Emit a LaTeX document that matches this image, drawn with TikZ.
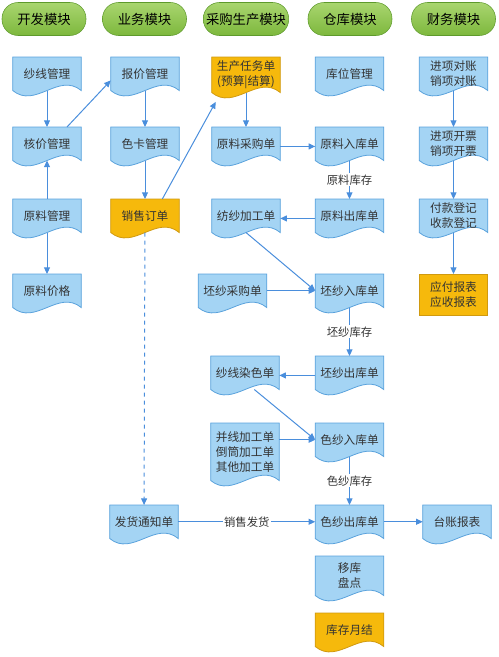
\documentclass[tikz,border=0pt]{standalone}
\usepackage{fontspec}
\setmainfont{Noto Sans CJK SC}
\usetikzlibrary{arrows.meta}
\definecolor{docfill}{HTML}{A4D4F4}
\definecolor{docline}{HTML}{5AA2DC}
\definecolor{ordfill}{HTML}{F6B90C}
\definecolor{ordline}{HTML}{D09A10}
\definecolor{modtop}{HTML}{A9D56F}
\definecolor{modbot}{HTML}{7DB83D}
\definecolor{modline}{HTML}{5E9A2C}
\definecolor{flowc}{HTML}{4A8EDC}
\definecolor{txt}{HTML}{333333}
\pgfdeclarelayer{background}
\pgfsetlayers{background,main}
% document outline with a wavy bottom, drawn round a named node
\newcommand\docshape[3]{%
  \filldraw[fill=#2, draw=#3, line width=0.6pt]
    (#1.north west) -- (#1.north east) -- (#1.south east)
    .. controls ([xshift=-17pt,yshift=14pt]#1.south east) and ([xshift=17pt,yshift=-14pt]#1.south west) .. (#1.south west)
    -- cycle;}

\begin{document}
\begin{tikzpicture}[
  x=0.75pt, y=-0.75pt,
  font={\fontsize{8.75}{11.25}\selectfont},
  module/.style={draw=modline, top color=modtop, bottom color=modbot, rounded corners=12pt,
    minimum width=63pt, minimum height=24.75pt, inner xsep=2pt, font={\fontsize{10}{12}\selectfont}},
  doc/.style={anchor=north, minimum width=51pt, minimum height=24.75pt, align=center,
    inner sep=1pt, text=txt},
  flow/.style={flowc, line width=0.75pt, -{Triangle[length=5pt,width=4.5pt]}},
  lbl/.style={font={\fontsize{8.5}{10}\selectfont}, fill=white, inner sep=1pt, text=txt},
]
\useasboundingbox (0,0) rectangle (499,657);

% ---------- module headers ----------
\node[module] (hdev)   at (44,19)    {开发模块};
\node[module] (hbiz)   at (144.5,19) {业务模块};
\node[module] (hprod)  at (246,19)   {采购生产模块};
\node[module] (hstore) at (350,19)   {仓库模块};
\node[module] (hfin)   at (453.5,19) {财务模块};

% ---------- development ----------
\node[doc] (sxgl) at (47,57)  {纱线管理};
\node[doc] (hjgl) at (47,127) {核价管理};
\node[doc] (ylgl) at (47,199) {原料管理};
\node[doc] (yljg) at (47,274) {原料价格};

% ---------- business ----------
\node[doc] (bjgl) at (145,57)  {报价管理};
\node[doc] (skgl) at (145,127) {色卡管理};
\node[doc] (xsdd) at (145,199) {销售订单};
\node[doc] (fhtz) at (144,505) {发货通知单};

% ---------- purchase / production ----------
\node[doc, minimum height=26.25pt] (scrw) at (246,57) {生产任务单\\(预算|结算)};
\node[doc] (ylcg) at (246,127)   {原料采购单};
\node[doc] (fsjg) at (246,199)   {纺纱加工单};
\node[doc] (pscg) at (232.5,274) {坯纱采购单};
\node[doc] (sxrs) at (245,356)   {纱线染色单};
\node[doc, minimum height=42.75pt] (bxjg) at (245,423) {并线加工单\\倒筒加工单\\其他加工单};

% ---------- warehouse ----------
\node[doc] (kwgl) at (349.5,57)  {库位管理};
\node[doc] (ylrk) at (349.5,127) {原料入库单};
\node[doc] (ylck) at (349.5,199) {原料出库单};
\node[doc] (psrk) at (349.5,274) {坯纱入库单};
\node[doc] (psck) at (349.5,356) {坯纱出库单};
\node[doc] (ssrk) at (349.5,423) {色纱入库单};
\node[doc] (ssck) at (349.5,505) {色纱出库单};
\node[doc, minimum height=29.25pt] (ykpd) at (349.5,556) {移库\\盘点};
\node[doc] (kcyj) at (349.5,613) {库存月结};

% ---------- finance ----------
\node[doc] (jxdz) at (453.5,57)  {进项对账\\销项对账};
\node[doc] (jxkp) at (453.5,127) {进项开票\\销项开票};
\node[doc] (fkdj) at (453.5,199) {付款登记\\收款登记};
\node[doc, minimum height=30.75pt, draw=ordline, fill=ordfill, line width=0.6pt] (yfbb) at (453.5,274) {应付报表\\应收报表};
\node[doc] (tzbb) at (457,505) {台账报表};

% outlines behind the text
\begin{pgfonlayer}{background}
\foreach \n/\f/\l in {sxgl/docfill/docline, hjgl/docfill/docline, ylgl/docfill/docline,
  yljg/docfill/docline, bjgl/docfill/docline, skgl/docfill/docline, xsdd/ordfill/ordline,
  fhtz/docfill/docline, scrw/ordfill/ordline, ylcg/docfill/docline, fsjg/docfill/docline,
  pscg/docfill/docline, sxrs/docfill/docline, bxjg/docfill/docline, kwgl/docfill/docline,
  ylrk/docfill/docline, ylck/docfill/docline, psrk/docfill/docline, psck/docfill/docline,
  ssrk/docfill/docline, ssck/docfill/docline, ykpd/docfill/docline, kcyj/ordfill/ordline,
  jxdz/docfill/docline, jxkp/docfill/docline, fkdj/docfill/docline, tzbb/docfill/docline}
  \docshape{\n}{\f}{\l};
\end{pgfonlayer}

% ---------- flows ----------
\draw[flow] (sxgl) -- (hjgl);
\draw[flow] (ylgl) -- (hjgl);
\draw[flow] (ylgl) -- (yljg);
\draw[flow] ([xshift=15pt]hjgl.north) -- ([yshift=-5pt]bjgl.west);
\draw[flow] (bjgl) -- (skgl);
\draw[flow] (skgl) -- (xsdd);
\draw[flow] ([xshift=13pt]xsdd.north) -- ([xshift=3pt,yshift=-7pt]scrw.south west);
\draw[flow, dashed] (xsdd) -- (fhtz);
\draw[flow] (scrw) -- (ylcg);
\draw[flow] ([yshift=-2pt]ylcg.east) -- ([yshift=-2pt]ylrk.west);
\draw[flow] (ylrk) -- node[lbl] (ylkc) {原料库存} (ylck);
\draw[flow] ([yshift=-2pt]ylck.west) -- ([yshift=-2pt]fsjg.east);
\draw[flow] (fsjg.south) -- (psrk.west);
\draw[flow] (pscg) -- (psrk);
\draw[flow] (psrk) -- node[lbl] (pskc) {坯纱库存} (psck);
\draw[flow] ([yshift=-2pt]psck.west) -- ([yshift=-2pt]sxrs.east);
\draw[flow] ([xshift=7pt]sxrs.south) -- (ssrk.west);
\draw[flow] (bxjg.east |- ssrk.west) -- (ssrk.west);
\draw[flow] (ssrk) -- node[lbl] (sskc) {色纱库存} (ssck);
\draw[flow] (fhtz) -- node[lbl] (xsfh) {销售发货} (ssck);
\draw[flow] (ssck) -- (tzbb);
\draw[flow] (jxdz) -- (jxkp);
\draw[flow] (jxkp) -- (fkdj);
\draw[flow] (fkdj) -- (yfbb);

\end{tikzpicture}
\end{document}
